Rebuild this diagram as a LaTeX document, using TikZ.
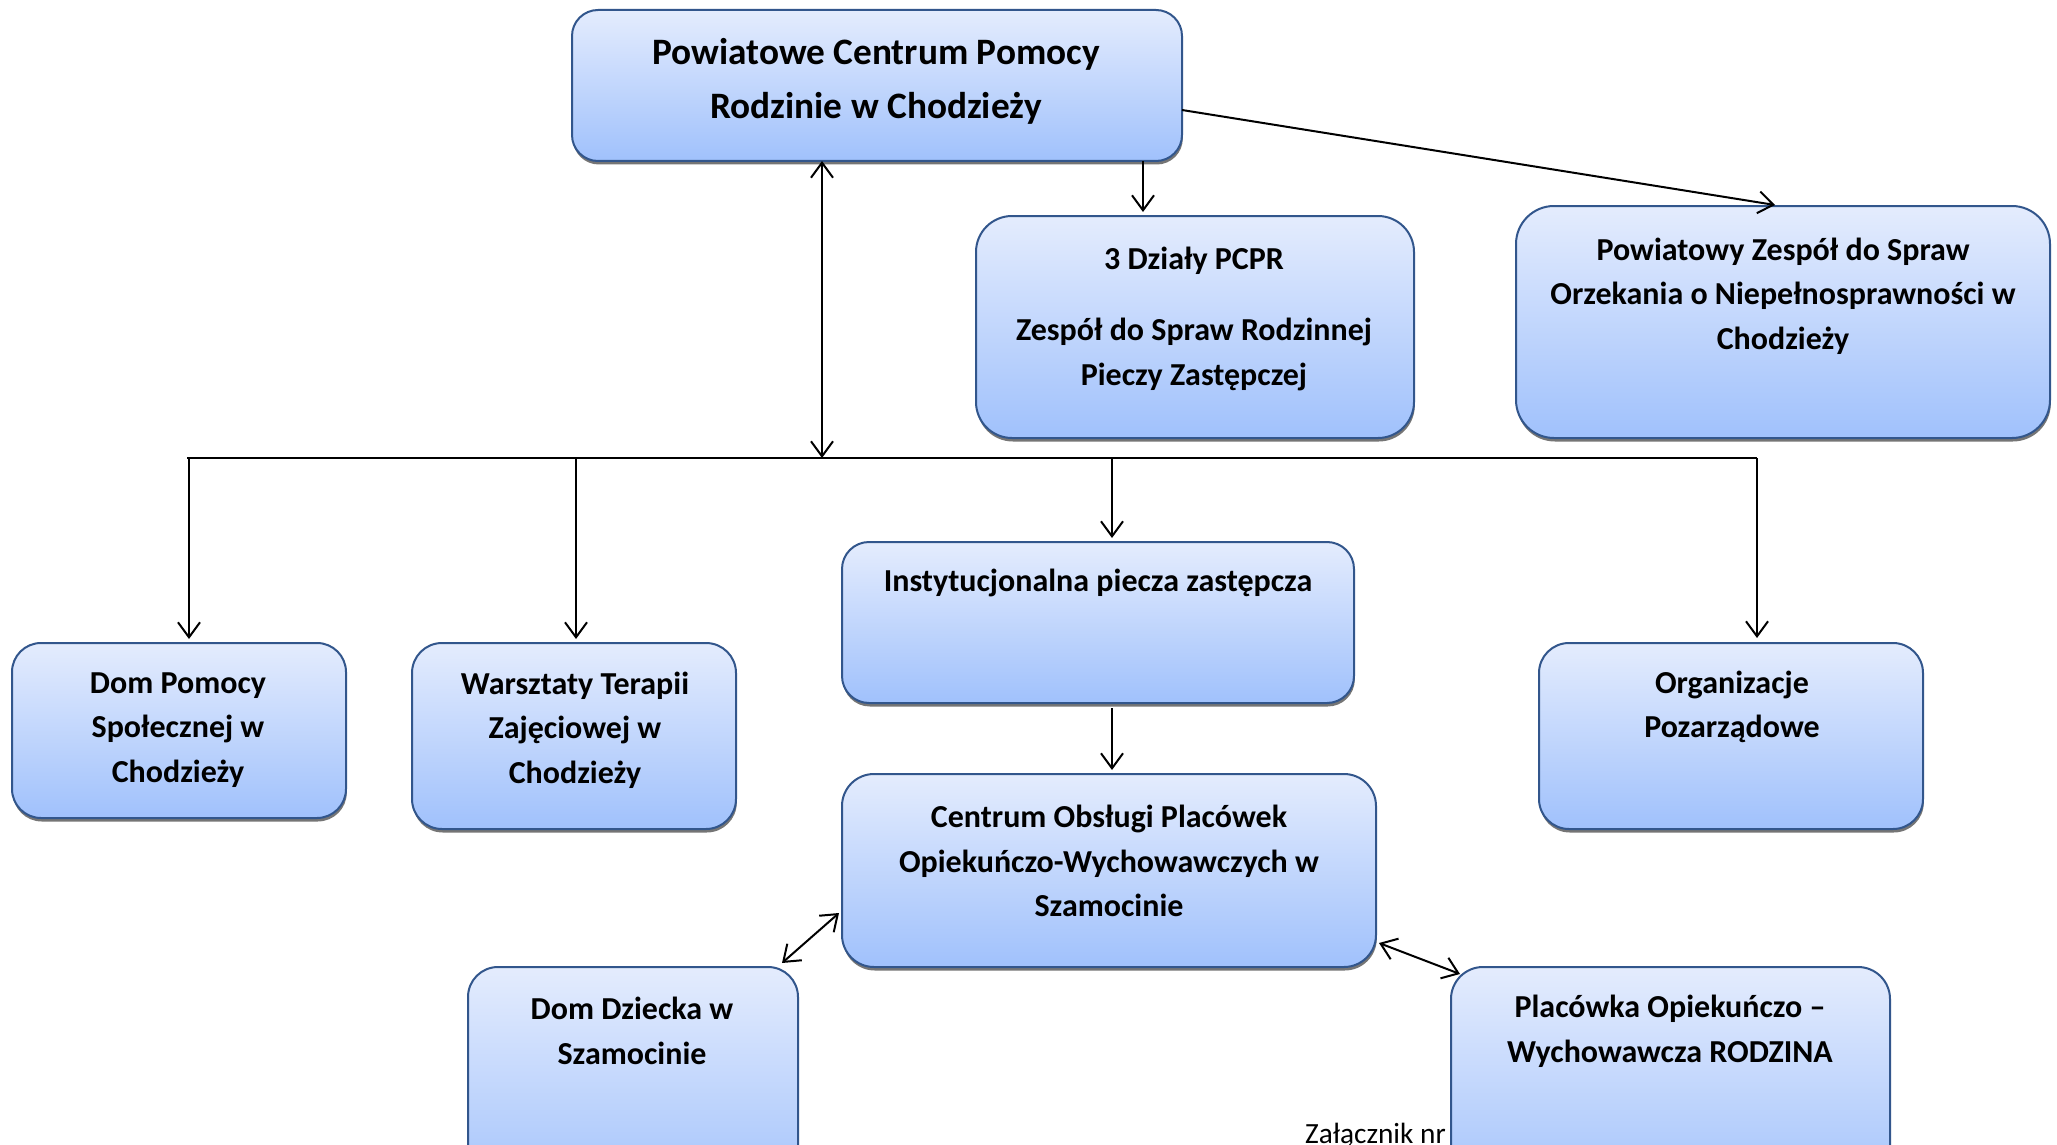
\documentclass[tikz,border=0pt]{standalone}
\usepackage{fontspec}
\setmainfont{Carlito}
\usetikzlibrary{arrows.meta,shadows,calc}
\definecolor{bordc}{RGB}{50,86,140}
\definecolor{topc}{RGB}{228,236,253}
\definecolor{botc}{RGB}{160,193,252}
\begin{document}
\begin{tikzpicture}[x=1pt,y=-1pt,
  box/.style={draw=bordc, line width=2pt, top color=topc, bottom color=botc,
    inner sep=0pt, outer sep=0pt, anchor=north west,
    drop shadow={shadow xshift=0.8pt, shadow yshift=-3.5pt, fill=black!60, opacity=0.9}},
  lbl/.style={align=center, font=\fontsize{32}{44.6}\selectfont\bfseries, inner sep=0pt},
  biglbl/.style={align=center, font=\fontsize{37.3}{54}\selectfont\bfseries, inner sep=0pt},
  arr/.style={line width=2pt, -{Straight Barb[length=15pt,width=22pt]}},
  darr/.style={line width=2pt, {Straight Barb[length=15pt,width=22pt]}-{Straight Barb[length=15pt,width=22pt]}},
  ln/.style={line width=2pt}]
\useasboundingbox (0,0) rectangle (2057,1145);
\clip (0,0) rectangle (2057,1145);
\fill[white] (0,0) rectangle (2057,1145);

% boxes
\node[box, minimum width=610pt, minimum height=151pt, rounded corners=26pt] (B1) at (572,10) {};
\node[box, minimum width=438pt, minimum height=222pt, rounded corners=36pt] (B2) at (976,216) {};
\node[box, minimum width=534pt, minimum height=232pt, rounded corners=38pt] (B3) at (1516,206) {};
\node[box, minimum width=334pt, minimum height=175pt, rounded corners=29pt] (B4) at (12,643) {};
\node[box, minimum width=324pt, minimum height=186pt, rounded corners=30pt] (B5) at (412,643) {};
\node[box, minimum width=512pt, minimum height=161pt, rounded corners=27pt] (B6) at (842,542) {};
\node[box, minimum width=384pt, minimum height=186pt, rounded corners=30pt] (B7) at (1539,643) {};
\node[box, minimum width=534pt, minimum height=193pt, rounded corners=32pt] (B8) at (842,774) {};
\node[box, minimum width=330pt, minimum height=240pt, rounded corners=30pt] (B9) at (468,967) {};

\node[anchor=base west, inner sep=0pt, font=\fontsize{29.3}{35}\selectfont] (ZAL) at (1305,1143) {Załącznik nr 2};

\node[box, minimum width=439pt, minimum height=240pt, rounded corners=32pt] (B10) at (1451,967) {};

% texts
\node[biglbl] (T1) at (876,81) {Powiatowe Centrum Pomocy\\Rodzinie w Chodzieży};
\node[lbl] (T2) at (1194,319) {3 Działy PCPR\\[26pt]Zespół do Spraw Rodzinnej\\Pieczy Zastępczej};
\node[lbl] (T3) at (1783,296) {Powiatowy Zespół do Spraw\\Orzekania o Niepełnosprawności w\\Chodzieży};
\node[lbl] (T4) at (178,730) {Dom Pomocy\\Społecznej w\\Chodzieży};
\node[lbl] (T5) at (575,730) {Warsztaty Terapii\\Zajęciowej w\\Chodzieży};
\node[lbl] (T6) at (1098,583) {Instytucjonalna piecza zastępcza};
\node[lbl] (T7) at (1732,707) {Organizacje\\Pozarządowe};
\node[lbl] (T8) at (1109,861) {Centrum Obsługi Placówek\\Opiekuńczo-Wychowawczych w\\Szamocinie};
\node[lbl] (T9) at (632,1031) {Dom Dziecka w\\Szamocinie};
\node[lbl] (T10) at (1670,1031) {Placówka Opiekuńczo –\\Wychowawcza RODZINA};

% helper coordinates
\coordinate (xa) at (1143,0);
\coordinate (xb) at (1775,0);
\coordinate (xc) at (822,0);
\coordinate (HL) at (187,458);
\coordinate (HR) at (1757,458);
\coordinate (d4) at (189,458);
\coordinate (d5) at (576,458);
\coordinate (d6) at (1112,458);
\coordinate (d7) at (1757,458);
\coordinate (s1) at (1182,110);
\coordinate (p8a) at (839,913);
\coordinate (p9) at (782,963);
\coordinate (p8b) at (1379,943);
\coordinate (p10) at (1460,974);

% connectors
\draw[arr] (B1.south -| xa) -- ($(B2.north -| xa)+(0,-4)$);
\draw[arr] (s1) -- ($(B3.north -| xb)+(0,-1)$);
\draw[darr] (B1.south -| xc) -- (HL -| xc);
\draw[ln] (HL) -- (HR);
\draw[arr] (d4) -- ($(B4.north -| d4)+(0,-4)$);
\draw[arr] (d5) -- ($(B5.north -| d5)+(0,-4)$);
\draw[arr] (d6) -- ($(B6.north -| d6)+(0,-4)$);
\draw[arr] (d7) -- ($(B7.north -| d7)+(0,-5)$);
\draw[arr] ($(B6.south -| d6)+(0,5)$) -- ($(B8.north -| d6)+(0,-4)$);
\draw[darr] (p8a) -- (p9);
\draw[darr] (p8b) -- (p10);
\end{tikzpicture}
\end{document}
